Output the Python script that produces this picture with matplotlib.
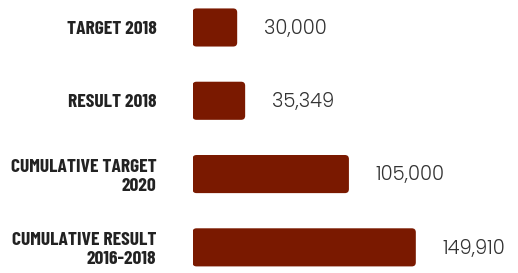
import matplotlib
matplotlib.use("Agg")
import matplotlib.pyplot as plt
from matplotlib.patches import FancyBboxPatch

# data
categories = ["TARGET 2018", "RESULT 2018", "CUMULATIVE TARGET\n2020", "CUMULATIVE RESULT\n2016-2018"]
values = [30000, 35349, 105000, 149910]
value_labels = ["30,000", "35,349", "105,000", "149,910"]

BAR_COLOR = "#7a1900"
DPI = 100
W, H = 518, 273

fig = plt.figure(figsize=(W / DPI, H / DPI), dpi=DPI)
left_px = 192.5
ax = fig.add_axes([left_px / W, 0, 1 - left_px / W, 1])

ypos = list(range(len(categories)))
bars = ax.barh(ypos, values, height=0.52, color=BAR_COLOR)
ax.set_xlim(0, 218500)
ax.set_ylim(3.35, -0.375)

# swap the plain bars for rounded ones
px_x = 218500 / ((1 - left_px / W) * W)   # data units per pixel in x
px_y = (3.35 + 0.375) / H                  # data units per pixel in y
for b in bars:
    x0, y0 = b.get_x(), b.get_y()
    w, h = b.get_width(), b.get_height()
    b.set_visible(False)
    ax.add_patch(FancyBboxPatch(
        (x0, y0), w, h,
        boxstyle=f"round,pad=0,rounding_size={4 * px_x}",
        mutation_aspect=px_y / px_x,
        facecolor=BAR_COLOR, edgecolor="none"))

for y, v, lab in zip(ypos, values, value_labels):
    ax.annotate(lab, (v, y), xytext=(19, -1), textcoords="offset points",
                ha="left", va="center", fontsize=14, color="#333333",
                fontweight=300, family=["Poppins", "Lato"])

ax.set_yticks(ypos)
ax.set_yticklabels(categories, fontsize=14, fontweight="bold", color="#222222",
                   family=["Barlow Condensed", "DejaVu Sans"],
                   multialignment="right", linespacing=1.15)
ax.tick_params(axis="y", length=0, pad=26)
ax.set_xticks([])
for s in ax.spines.values():
    s.set_visible(False)

fig.savefig("out.png", dpi=DPI)
